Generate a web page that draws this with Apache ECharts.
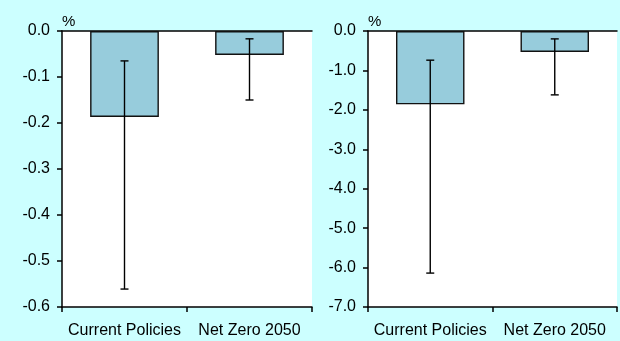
<!DOCTYPE html>
<html>
<head>
<meta charset="utf-8">
<script src="https://cdn.jsdelivr.net/npm/echarts@6/dist/echarts.min.js"></script>
<style>
  html, body { margin: 0; padding: 0; background: #CCFFFF; }
  #chart { width: 620px; height: 341px; }
</style>
</head>
<body>
<div id="chart"></div>
<script>
// Scenario categories shared by both panels
const categories = ['Current Policies', 'Net Zero 2050'];

// Left panel: central estimate and range (%)
const leftValues = [-0.187, -0.052];
const leftLow = [-0.561, -0.150];
const leftHigh = [-0.065, -0.017];
const leftTicks = { min: -0.6, max: 0, interval: 0.1 };

// Right panel: central estimate and range (%)
const rightValues = [-1.86, -0.53];
const rightLow = [-6.14, -1.62];
const rightHigh = [-0.74, -0.20];
const rightTicks = { min: -7, max: 0, interval: 1 };

const FONT = '"Liberation Sans", Arial, sans-serif';
const BAR_FILL = '#97CCDC';

function errorSeries(axisIdx, low, high) {
  return {
    type: 'custom',
    xAxisIndex: axisIdx * 2,
    yAxisIndex: axisIdx,
    z: 5,
    data: categories.map((c, i) => [i, low[i], high[i]]),
    renderItem: function (params, api) {
      const x = api.value(0);
      const lo = api.coord([x, api.value(1)]);
      const hi = api.coord([x, api.value(2)]);
      const cap = 4;
      const style = { stroke: '#000', lineWidth: 1.4 };
      return {
        type: 'group',
        children: [
          { type: 'line', shape: { x1: lo[0], y1: lo[1], x2: hi[0], y2: hi[1] }, style },
          { type: 'line', shape: { x1: lo[0] - cap, y1: lo[1], x2: lo[0] + cap, y2: lo[1] }, style },
          { type: 'line', shape: { x1: hi[0] - cap, y1: hi[1], x2: hi[0] + cap, y2: hi[1] }, style }
        ]
      };
    }
  };
}

function xAxes(gridIdx) {
  return [
    {
      type: 'category',
      gridIndex: gridIdx,
      data: categories,
      position: 'bottom',
      axisLine: { onZero: false, lineStyle: { color: '#000', width: 1.5 } },
      axisTick: { show: true, length: 5, lineStyle: { color: '#000', width: 1.5 } },
      axisLabel: {
        color: '#000', fontFamily: FONT, fontSize: 16, margin: 16,
        interval: 0, hideOverlap: false
      }
    },
    {
      type: 'category',
      gridIndex: gridIdx,
      data: categories,
      position: 'top',
      axisLine: { onZero: false, lineStyle: { color: '#000', width: 1.5 } },
      axisTick: { show: false },
      axisLabel: { show: false }
    }
  ];
}

function yAxis(gridIdx, t) {
  return {
    type: 'value',
    gridIndex: gridIdx,
    min: t.min,
    max: t.max,
    interval: t.interval,
    name: '%',
    nameLocation: 'end',
    nameGap: 2,
    nameTextStyle: { color: '#000', fontFamily: FONT, fontSize: 15, align: 'left', verticalAlign: 'bottom' },
    axisLine: { show: true, lineStyle: { color: '#000', width: 1.5 } },
    axisTick: { show: true, length: 5, lineStyle: { color: '#000', width: 1.5 } },
    axisLabel: {
      color: '#000', fontFamily: FONT, fontSize: 16, margin: 12,
      formatter: v => v.toFixed(1)
    },
    splitLine: { show: false }
  };
}

function barSeries(axisIdx, values) {
  return {
    type: 'bar',
    xAxisIndex: axisIdx * 2,
    yAxisIndex: axisIdx,
    data: values,
    barCategoryGap: '45%',
    itemStyle: { color: BAR_FILL, borderColor: '#111', borderWidth: 1.4 }
  };
}

const chart = echarts.init(document.getElementById('chart'), null, { renderer: 'canvas' });
chart.setOption({
  backgroundColor: '#CCFFFF',
  animation: false,
  grid: [
    { left: 62, right: 308, top: 31, bottom: 34, show: true, backgroundColor: '#fff', borderWidth: 0 },
    { left: 368, right: 3, top: 31, bottom: 34, show: true, backgroundColor: '#fff', borderWidth: 0 }
  ],
  xAxis: [...xAxes(0), ...xAxes(1)],
  yAxis: [yAxis(0, leftTicks), yAxis(1, rightTicks)],
  series: [
    barSeries(0, leftValues),
    errorSeries(0, leftLow, leftHigh),
    barSeries(1, rightValues),
    errorSeries(1, rightLow, rightHigh)
  ]
});
</script>
</body>
</html>
